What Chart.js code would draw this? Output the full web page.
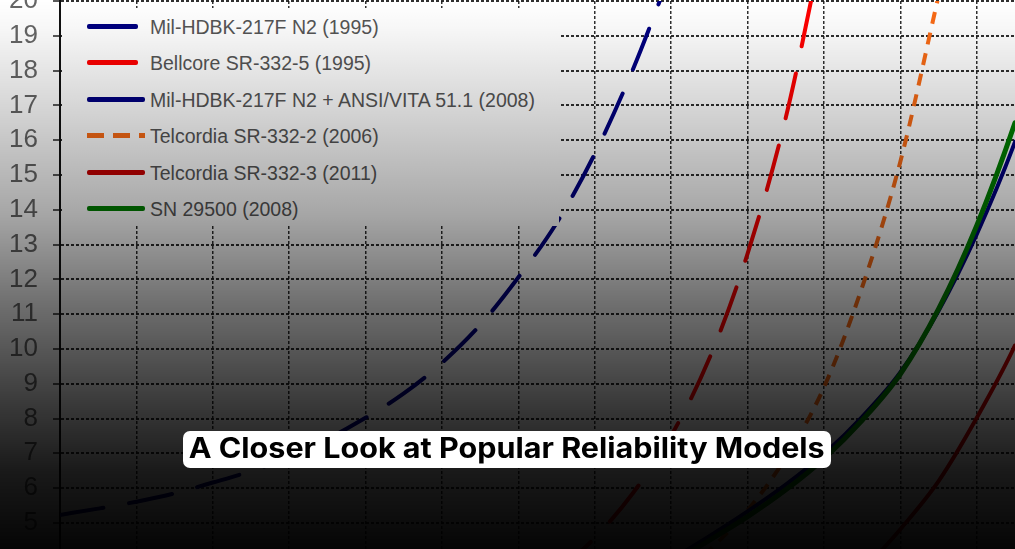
<!DOCTYPE html>
<html>
<head>
<meta charset="utf-8">
<script src="https://cdn.jsdelivr.net/npm/chart.js@4.4.1/dist/chart.umd.min.js"></script>
<style>
  html, body { margin: 0; padding: 0; background: #000; }
  #wrap { position: relative; width: 1015px; height: 549px; overflow: hidden; background: #fff; }
  #chart { position: absolute; left: 0; top: 0; }
  #legend { position: absolute; left: 62px; top: 8px; width: 497px; height: 218px; background: #fff; }
  .item { position: absolute; left: 0; width: 497px; height: 24px; }
  .swatch { position: absolute; left: 25px; top: 9px; height: 5px; border-radius: 2px; }
  .lbl { position: absolute; left: 88px; top: 0; font: 19.5px 'Liberation Sans', Arial, sans-serif;
         color: #555; line-height: 24px; white-space: nowrap; }
  #shade { position: absolute; left: 0; top: 0; width: 1015px; height: 549px; pointer-events: none;
           background: linear-gradient(to bottom,
             rgba(0,0,0,0) 0%, rgba(0,0,0,0.03) 5%, rgba(0,0,0,0.15) 18%, rgba(0,0,0,0.35) 39%,
             rgba(0,0,0,0.56) 55%, rgba(0,0,0,0.77) 73%, rgba(0,0,0,0.9) 86%, rgba(0,0,0,0.98) 100%); }
  #title { position: absolute; left: 183px; top: 431px; width: 648px; height: 37px; background: #fff;
           border-radius: 7px; text-align: center; line-height: 37px; color: #000; white-space: nowrap; }
  #title span { display: inline-block; font: 700 28px Inter, 'Noto Sans', sans-serif; transform-origin: center; }
</style>
</head>
<body>
<div id="wrap">
  <canvas id="chart" width="1015" height="549"></canvas>
  <div id="legend"></div>
  <div id="shade"></div>
  <div id="title"><span>A Closer Look at Popular Reliability Models</span></div>
</div>
<script>
// temperature steps (x) and y tick labels
const temps = [20, 25, 30, 35, 40, 45, 50, 55, 60, 65, 70, 75, 80, 85, 90, 95,
               100, 105, 110, 115, 120, 125, 130, 135, 140, 145, 150];
const xTicks = [20, 30, 40, 50, 60, 70, 80, 90, 100, 110, 120, 130, 140];
const yTicks = [5, 6, 7, 8, 9, 10, 11, 12, 13, 14, 15, 16, 17, 18, 19, 20];

const seriesNames = [
    'Mil-HDBK-217F N2 (1995)',
    'Bellcore SR-332-5 (1995)',
    'Mil-HDBK-217F N2 + ANSI/VITA 51.1 (2008)',
    'Telcordia SR-332-2 (2006)',
    'Telcordia SR-332-3 (2011)',
    'SN 29500 (2008)'
];

const mil1995 = [5.23, 5.41, 5.61, 5.85, 6.16, 6.49, 6.90, 7.41, 8.02, 8.72, 9.60, 10.69, 12.06, 13.62, 15.61, 18.04,
                 20.86, null, null, null, null, null, null, null, null, null, null];
const bellcore = [null, null, null, null, null, null, null, null, null, null, null, null, null,
                  3.57, 4.57, 5.86, 7.51, 9.73, 12.74, 16.65, 21.8, null, null, null, null, null, null];
const mil2008 = [null, null, null, null, null, null, null, null, null, null, null, null, null, null, null, null,
                 3.95, 4.62, 5.33, 6.1, 6.98, 8.05, 9.33, 11.1, 13.3, 15.95, 19.2];
const telcordia2 = [null, null, null, null, null, null, null, null, null, null, null, null, null, null, null, null,
                    3.3, 4.22, 5.36, 6.88, 8.90, 11.78, 15.39, 20.15, null, null, null];
const telcordia3 = [null, null, null, null, null, null, null, null, null, null, null, null, null, null, null, null,
                    null, null, null, null, null, 3.6, 4.82, 6.2, 8.02, 10.1, 12.7];
const sn29500 = [null, null, null, null, null, null, null, null, null, null, null, null, null, null, null, null,
                 3.85, 4.5, 5.18, 5.95, 6.85, 7.95, 9.28, 11.15, 13.55, 16.5, 20.0];

const seriesValues = [mil1995, bellcore, mil2008, telcordia2, telcordia3, sn29500];

// styles, same order as the names
const styles = [
    { color: '#000080', width: 4, dash: [44, 26], cap: 'round', legendW: 51 },
    { color: '#ff0000', width: 4, dash: [46, 28], cap: 'round', legendW: 51 },
    { color: '#000080', width: 4, dash: [], cap: 'round', legendW: 58 },
    { color: '#f96b16', width: 4, dash: [12, 9], cap: 'butt', legendW: 58, legendDash: [17, 9] },
    { color: '#c80000', width: 4, dash: [], cap: 'round', legendW: 58 },
    { color: '#008000', width: 5, dash: [], cap: 'round', legendW: 58 }
];

const datasets = seriesNames.map((name, i) => ({
    label: name,
    data: temps.map((t, j) => ({ x: t, y: seriesValues[i][j] })),
    borderColor: styles[i].color,
    borderWidth: styles[i].width,
    borderDash: styles[i].dash,
    borderCapStyle: styles[i].cap,
    pointRadius: 0,
    fill: false,
    cubicInterpolationMode: 'monotone',
    order: i === 5 ? -1 : i
}));

const gridColor = 'rgba(25,25,25,0.9)';

new Chart(document.getElementById('chart'), {
    type: 'line',
    data: { datasets: datasets },
    options: {
        responsive: false,
        animation: false,
        layout: { padding: { top: 1, left: 0, right: 0, bottom: 0 } },
        plugins: { legend: { display: false }, tooltip: { enabled: false } },
        scales: {
            x: {
                type: 'linear',
                min: 20,
                max: 145,
                afterBuildTicks: s => { s.ticks = xTicks.map(v => ({ value: v })); },
                afterFit: s => { s.height = 0; s.paddingLeft = 0; s.paddingRight = 0; },
                ticks: { display: false },
                border: { display: false, dash: [3, 2] },
                grid: { color: gridColor, lineWidth: 1.5, drawTicks: false }
            },
            y: {
                min: 4.25,
                max: 20,
                afterBuildTicks: s => { s.ticks = yTicks.map(v => ({ value: v })); },
                afterFit: s => { s.width = 60; s.paddingTop = 0; s.paddingBottom = 0; },
                ticks: {
                    autoSkip: false,
                    color: '#666',
                    padding: 15,
                    font: { family: "'Liberation Sans Narrow', 'Arial Narrow', 'Liberation Sans', sans-serif", size: 26 }
                },
                border: { display: true, color: '#111', width: 2, dash: [3, 2] },
                grid: {
                    color: gridColor, lineWidth: 2,
                    tickLength: 7, tickColor: '#222', tickWidth: 1.5, tickBorderDash: []
                }
            }
        }
    }
});

// legend box
const legend = document.getElementById('legend');
seriesNames.forEach((name, i) => {
    const st = styles[i];
    const item = document.createElement('div');
    item.className = 'item';
    item.style.top = (19 + i * 36.4 - 12) + 'px';
    const sw = document.createElement('div');
    sw.className = 'swatch';
    sw.style.width = st.legendW + 'px';
    if (st.legendDash) {
        const [a, b] = st.legendDash;
        sw.style.borderRadius = '0';
        sw.style.background = 'repeating-linear-gradient(to right, ' + st.color + ' 0 ' + a + 'px, transparent ' + a + 'px ' + (a + b) + 'px)';
    } else {
        sw.style.background = st.color;
    }
    const lbl = document.createElement('div');
    lbl.className = 'lbl';
    lbl.textContent = name;
    item.appendChild(sw);
    item.appendChild(lbl);
    legend.appendChild(item);
});

// squeeze title text to the box width
const span = document.querySelector('#title span');
const w = span.getBoundingClientRect().width;
span.style.transform = 'scaleX(' + (636 / w) + ')';
</script>
</body>
</html>
